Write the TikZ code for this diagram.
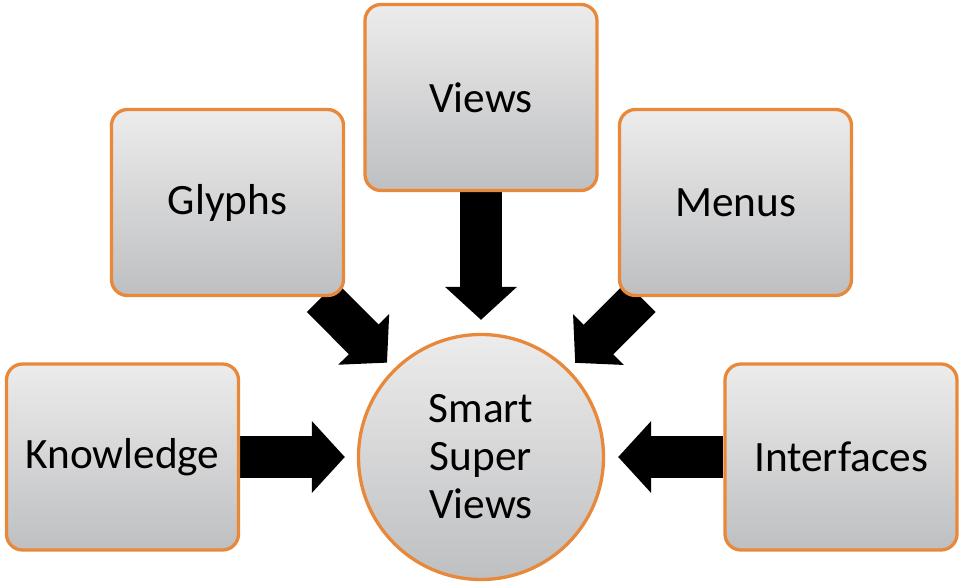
\documentclass[tikz,border=0pt]{standalone}
\usepackage{fontspec}
\setmainfont{Carlito}
\usetikzlibrary{arrows.meta,backgrounds}
\definecolor{obord}{RGB}{232,136,58}
\definecolor{gtop}{RGB}{236,236,236}
\definecolor{gbot}{RGB}{190,191,193}
\begin{document}
\begin{tikzpicture}[x=1pt,y=-1pt,
 box/.style={draw=obord, line width=3.3pt, rounded corners=16pt, top color=gtop, bottom color=gbot, minimum width=232pt, minimum height=186pt, font=\fontsize{43.3}{48}\selectfont, text=black},
 hub/.style={circle, draw=obord, line width=3.3pt, top color=gtop, bottom color=gbot, minimum size=245pt, inner sep=0pt, align=center, font=\fontsize{43.3}{48}\selectfont},
 bigarrow/.style={line width=42pt, -{Triangle[length=33pt,width=70pt]}, black}]
\useasboundingbox (0,0) rectangle (962,582);
\node[hub] (C) at (481,457) {Smart\\Super\\Views};
\node[box] (K) at (122.5,457) {Knowledge};
\node[box] (I) at (841,457) {Interfaces};
\node[box] (V) at (481,97.5) {Views};
\node[box] (G) at (227.5,202.5) {Glyphs};
\node[box] (M) at (735.5,202.5) {Menus};
\begin{scope}[on background layer]
\draw[bigarrow, shorten >=12pt] (K) -- (C);
\draw[bigarrow, shorten >=13pt] (I) -- (C);
\draw[bigarrow, shorten >=13pt] (V) -- (C);
\draw[bigarrow, shorten >=9pt] (G) -- (C);
\draw[bigarrow, shorten >=9pt] (M) -- (C);
\end{scope}
\end{tikzpicture}
\end{document}
